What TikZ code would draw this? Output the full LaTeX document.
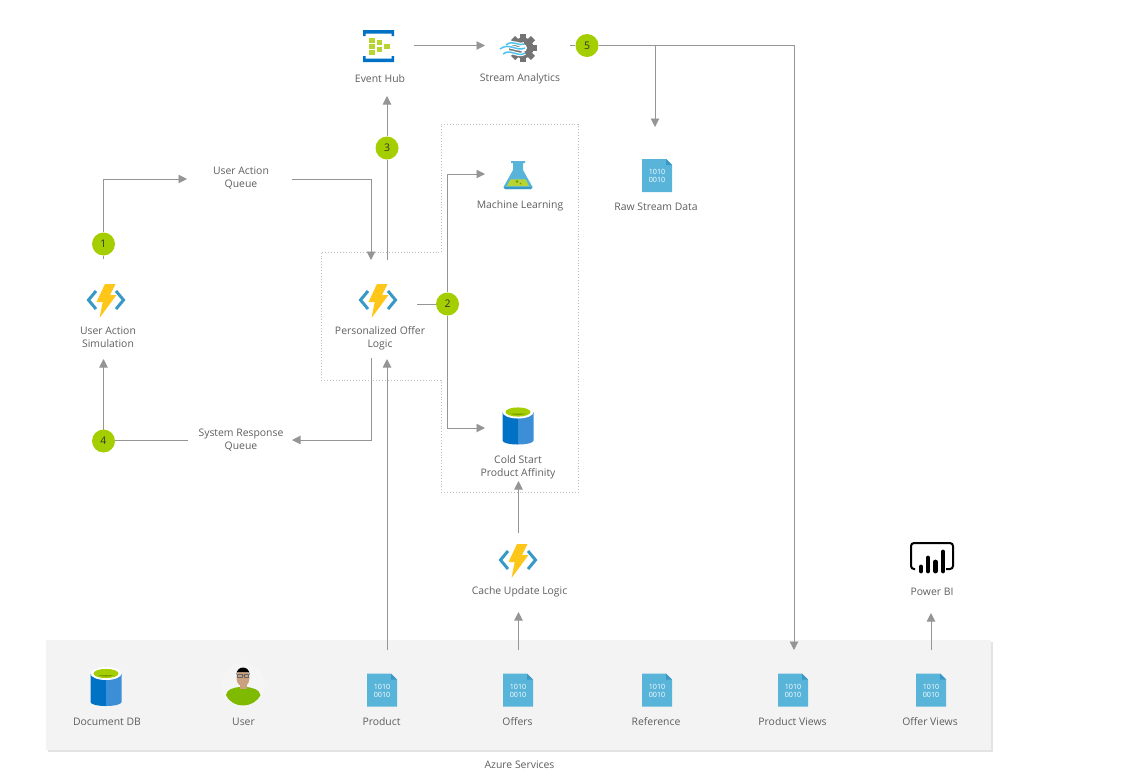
\documentclass[tikz,border=0pt]{standalone}
\usepackage{fontspec}
\setmainfont{Open Sans}
\usepackage{xcolor}
\usetikzlibrary{arrows.meta, positioning, shadows, backgrounds}

\definecolor{flowgray}{HTML}{959595}
\definecolor{labelgray}{HTML}{5E5E5E}
\definecolor{badgegreen}{HTML}{A5CE00}
\definecolor{azureblue}{HTML}{0072C6}
\definecolor{azurelight}{HTML}{3C8FD6}
\definecolor{docblue}{HTML}{59B4D9}
\definecolor{docdark}{HTML}{3999C6}
\definecolor{leafgreen}{HTML}{B8D432}
\definecolor{boltyellow}{HTML}{FFC61A}
\definecolor{wavecyan}{HTML}{4FC3F0}
\definecolor{shirtgreen}{HTML}{7FBA00}
\definecolor{skintone}{HTML}{C9A17F}
\definecolor{panelgray}{HTML}{F3F3F3}
\definecolor{halogray}{HTML}{F5F5F5}

\tikzset{
    flow/.style={draw=flowgray, line width=0.95pt, -{Triangle[length=8.5pt, width=8.5pt]}},
    plainflow/.style={draw=flowgray, line width=0.95pt},
    badge/.style={circle, fill=badgegreen, minimum size=23pt, inner sep=0pt,
        text=black!80, font=\fontsize{10.5}{12}\selectfont},
    caption/.style={text=labelgray, align=center, inner sep=0pt, yshift=-0.8pt,
        font=\fontsize{10.4}{13}\selectfont},
    funcicon/.pic={
        \draw[docdark, line width=3pt] (-10,-9) -- (-17.5,0) -- (-10,9);
        \draw[docdark, line width=3pt] (10,-9) -- (17.5,0) -- (10,9);
        \fill[boltyellow] (-1,-16) -- (9.5,-16) -- (4,-5) -- (10.5,-5) -- (-6.5,18) -- (-3.3,2) -- (-9.5,2) -- cycle;
    },
    docicon/.pic={
        \fill[docblue] (-15,-16.5) -- (9,-16.5) -- (15,-10.5) -- (15,16.5) -- (-15,16.5) -- cycle;
        \fill[docdark] (9,-16.5) -- (15,-10.5) -- (9,-10.5) -- cycle;
        \node[text=white, align=center, inner sep=0pt, font=\fontsize{7.2}{8}\selectfont] at (0,0.5) {1010\\0010};
    },
    dbicon/.pic={
        \fill[azureblue] (-15.5,-13) -- (0,-13) -- (0,19.5) .. controls (-8,19.5) and (-15.5,18) .. (-15.5,15.5) -- cycle;
        \fill[azurelight] (15.5,-13) -- (0,-13) -- (0,19.5) .. controls (8,19.5) and (15.5,18) .. (15.5,15.5) -- cycle;
        \fill[white] (0,-13) ellipse[x radius=15.5, y radius=6.5];
        \fill[badgegreen] (0,-13) ellipse[x radius=12.5, y radius=4.6];
        \fill[badgegreen!75!black] (-8,-11.5) .. controls (-4,-9.4) and (4,-9.4) .. (8,-11.5) -- cycle;
    },
    hubicon/.pic={
        \fill[azureblue] (-15.5,-16) -- (15.5,-16) -- (15.5,-10) -- (13,-10) -- (13,-12.5) -- (-13,-12.5) -- (-13,-10) -- (-15.5,-10) -- cycle;
        \fill[azureblue] (-15.5,16) -- (15.5,16) -- (15.5,10) -- (13,10) -- (13,12.5) -- (-13,12.5) -- (-13,10) -- (-15.5,10) -- cycle;
        \foreach \cx/\cy in {-6.5/-6,-6.5/0,-6.5/6.5,1/-3.5,1/3,8.5/0}
            \fill[leafgreen] (\cx-2.8,\cy-2.5) rectangle (\cx+2.8,\cy+2.5);
    },
    streamicon/.pic={
        \foreach \ang in {0,45,...,315}
            \fill[black!55, rotate=\ang] (-3,-14) rectangle (3,-8);
        \fill[black!55] (0,0) circle[radius=10.5];
        \fill[white] (0,0) circle[radius=4];
        \draw[white, line width=3.6pt] (-17,-3) .. controls (-10,-9) and (-4,-1) .. (1,-4);
        \draw[white, line width=3.6pt] (-23,1) .. controls (-14,-6) and (-6,4) .. (2,0);
        \draw[white, line width=3.6pt] (-20,6) .. controls (-12,0) and (-6,10) .. (2,5);
        \draw[wavecyan, line width=1.5pt] (-17,-3) .. controls (-10,-9) and (-4,-1) .. (1,-4);
        \draw[wavecyan, line width=1.5pt] (-23,1) .. controls (-14,-6) and (-6,4) .. (2,0);
        \draw[wavecyan, line width=1.5pt] (-20,6) .. controls (-12,0) and (-6,10) .. (2,5);
    },
    flaskicon/.pic={
        \fill[docblue] (-7,-14) -- (7,-14) -- (7,-12) -- (5,-12) -- (5,-5) -- (14.5,12) -- (13,14) -- (-13,14) -- (-14.5,12) -- (-5,-5) -- (-5,-12) -- (-7,-12) -- cycle;
        \fill[docdark] (14.5,12) -- (13,14) -- (-13,14) -- (-14.5,12) -- cycle;
        \fill[leafgreen] (-7.5,4.3) -- (7.5,4.3) -- (11,11) -- (-11,11) -- cycle;
        \fill[badgegreen!70!black] (-1,6.5) circle[radius=1.3] (2.5,8.5) circle[radius=.8];
    },
    usericon/.pic={
        \fill[halogray] (0,0) circle[radius=22];
        \fill[shirtgreen] (-17,10) .. controls (-16,4) and (-10,3) .. (-4,2) -- (4,2) .. controls (10,3) and (16,4) .. (17.5,10) .. controls (14,17) and (7,20.5) .. (0,20.5) .. controls (-7,20.5) and (-14,17) .. (-17,10) -- cycle;
        \fill[skintone] (-3.5,-4) rectangle (3.5,3.5);
        \fill[skintone] (0,-7) ellipse[x radius=6.5, y radius=8.5];
        \fill[black] (-6.5,-10) .. controls (-7,-20) and (7,-20) .. (6.5,-10) -- (5.5,-13) -- (-5.5,-13) -- cycle;
        \draw[black!60, line width=.4pt] (-5.5,-10.5) rectangle (-1,-7.5) (1,-10.5) rectangle (5.5,-7.5) (-1,-9.5) -- (1,-9.5);
    },
    powericon/.pic={
        \draw[black, line width=2pt, rounded corners=3pt] (-17,11) -- (-21,11) -- (-21,-15) -- (21,-15) -- (21,11) -- (14,11);
        \foreach \bx/\by in {-11/9,-4/0,3.5/4,11/-6}
            \draw[black, line width=4.8pt, line cap=round] (\bx,\by) -- (\bx,13);
    },
}

\begin{document}
\begin{tikzpicture}[x=1pt, y=-1pt]
    \useasboundingbox (0,0) rectangle (1131,780);

    % Top row
    \pic at (378.5,46) {hubicon};
    \node[caption] (hub) at (380,78) {Event Hub};
    \pic at (523,48) {streamicon};
    \node[caption] (stream) at (520,78) {Stream Analytics};

    % Left column
    \pic at (106,300) {funcicon};
    \node[caption] (simulation) at (108,336.5) {User Action\\Simulation};
    \node[caption] (actionqueue) at (241,177.5) {User Action\\Queue};
    \node[caption] (responsequeue) at (241,439.5) {System Response\\Queue};

    % Offer logic
    \pic at (378,300) {funcicon};
    \node[caption] (offerlogic) at (380,337.5) {Personalized Offer\\Logic};

    % Dotted group
    \pic at (518,175) {flaskicon};
    \node[caption] (learning) at (520,205) {Machine Learning};
    \pic at (518,425) {dbicon};
    \node[caption] (coldstart) at (518,466.5) {Cold Start\\Product Affinity};

    % Raw data, cache and report
    \pic at (657,175.5) {docicon};
    \node[caption] (rawdata) at (656,206) {Raw Stream Data};
    \pic at (518,560) {funcicon};
    \node[caption] (cacheupdate) at (519.5,591) {Cache Update Logic};
    \pic at (932,558) {powericon};
    \node[caption] (powerbi) at (932,591) {Power BI};

    % Azure services
    \pic at (106,686.5) {dbicon};
    \node[caption] (documentdb) at (107,721) {Document DB};
    \pic at (243,685) {usericon};
    \node[caption] (user) at (243.5,721) {User};
    \pic at (382,690) {docicon};
    \node[caption] (product) at (381.5,721) {Product};
    \pic at (518,690) {docicon};
    \node[caption] (offers) at (517.5,721) {Offers};
    \pic at (657,690) {docicon};
    \node[caption] (reference) at (656,721) {Reference};
    \pic at (793,690) {docicon};
    \node[caption] (productviews) at (792.5,721) {Product Views};
    \pic at (931,690) {docicon};
    \node[caption] (offerviews) at (930,721) {Offer Views};
    \node[caption] (azure) at (519.5,764) {Azure Services};

    % Numbered steps
    \node[badge] (stepone) at (103.5,244) {1};
    \node[badge] (steptwo) at (447.5,304) {2};
    \node[badge] (stepthree) at (387,148) {3};
    \node[badge] (stepfour) at (103.5,441) {4};
    \node[badge] (stepfive) at (587,45.5) {5};

    % Connector ends
    \coordinate (hubout) at (414,45.5);
    \coordinate (streamin) at (485,45.5);
    \coordinate (streamout) at (570,45.5);
    \coordinate (splitraw) at (655,45.5);
    \coordinate (rawin) at (655,127);
    \coordinate (viewsin) at (794,650);
    \coordinate (simout) at (103.5,259);
    \coordinate (simin) at (103.5,359);
    \coordinate (queuein) at (187,179);
    \coordinate (queueout) at (292,179);
    \coordinate (logicin) at (371,260);
    \coordinate (logicout) at (387,260);
    \coordinate (hubin) at (387,96);
    \coordinate (logicright) at (417,304);
    \coordinate (learnin) at (485,174);
    \coordinate (coldin) at (485,428);
    \coordinate (logicdown) at (371,358);
    \coordinate (replyin) at (292,440);
    \coordinate (replyout) at (188,440);
    \coordinate (productout) at (387,650);
    \coordinate (productin) at (387,359);
    \coordinate (cacheout) at (518.5,533);
    \coordinate (coldbottom) at (518.5,481);
    \coordinate (offersout) at (518.5,650);
    \coordinate (cachein) at (518.5,612);
    \coordinate (viewsout) at (931,650);
    \coordinate (powerin) at (931,613);

    \begin{scope}[on background layer]
        \fill[panelgray, drop shadow={opacity=0.22, shadow xshift=1.5pt, shadow yshift=-2pt}] (46,640) rectangle (991,750);
        \draw[black!25, dotted, line width=.9pt] (441,124) -- (578,124) -- (578,492) -- (441,492) -- (441,380) -- (321,380) -- (321,252) -- (441,252) -- cycle;

        \draw[flow] (hubout) -- (streamin);
        \draw[plainflow] (streamout) -- (stepfive);
        \draw[flow] (stepfive) -| (viewsin);
        \draw[flow] (splitraw) -- (rawin);
        \draw[flow] (simout) -- (stepone) |- (queuein);
        \draw[flow] (queueout) -| (logicin);
        \draw[flow] (logicout) -- (stepthree) -- (hubin);
        \draw[plainflow] (logicright) -- (steptwo);
        \draw[flow] (steptwo) |- (learnin);
        \draw[flow] (steptwo) |- (coldin);
        \draw[flow] (logicdown) |- (replyin);
        \draw[plainflow] (replyout) -| (stepfour);
        \draw[flow] (stepfour) -- (simin);
        \draw[flow] (productout) -- (productin);
        \draw[flow] (cacheout) -- (coldbottom);
        \draw[flow] (offersout) -- (cachein);
        \draw[flow] (viewsout) -- (powerin);
    \end{scope}
\end{tikzpicture}
\end{document}
